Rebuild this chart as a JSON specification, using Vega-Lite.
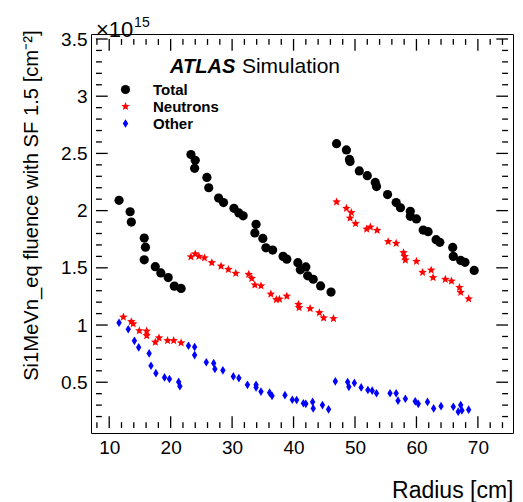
{
  "$schema": "https://vega.github.io/schema/vega-lite/v6.json",
  "width": 422,
  "height": 399,
  "autosize": {"type": "none"},
  "padding": {"left": 91, "top": 34, "right": 10, "bottom": 69},
  "background": "white",
  "config": {
    "view": {"stroke": "black", "strokeWidth": 1},
    "font": "Liberation Sans",
    "axis": {"domain": false, "ticks": false, "grid": false, "labelFont": "Liberation Sans", "labelFontSize": 19, "labelColor": "black", "labelFlush": false, "labelOverlap": false, "labelBound": false, "titleFont": "Liberation Sans", "titleColor": "black", "titleFontWeight": "normal"},
    "legend": {"labelFont": "Liberation Sans", "labelFontSize": 15, "labelFontWeight": "bold", "labelColor": "black", "symbolSize": 75, "labelOffset": 20, "rowPadding": 1, "padding": 0, "symbolStrokeWidth": 0, "labelLimit": 200}
  },
  "datasets": {
    "xt": [
      {"v": 8, "k": "minor"}, {"v": 10, "k": "major"}, {"v": 12, "k": "minor"}, {"v": 14, "k": "minor"}, {"v": 16, "k": "minor"}, {"v": 18, "k": "minor"}, {"v": 20, "k": "major"}, {"v": 22, "k": "minor"}, {"v": 24, "k": "minor"}, {"v": 26, "k": "minor"}, {"v": 28, "k": "minor"}, {"v": 30, "k": "major"}, {"v": 32, "k": "minor"}, {"v": 34, "k": "minor"}, {"v": 36, "k": "minor"}, {"v": 38, "k": "minor"}, {"v": 40, "k": "major"}, {"v": 42, "k": "minor"}, {"v": 44, "k": "minor"}, {"v": 46, "k": "minor"}, {"v": 48, "k": "minor"}, {"v": 50, "k": "major"}, {"v": 52, "k": "minor"}, {"v": 54, "k": "minor"}, {"v": 56, "k": "minor"}, {"v": 58, "k": "minor"}, {"v": 60, "k": "major"}, {"v": 62, "k": "minor"}, {"v": 64, "k": "minor"}, {"v": 66, "k": "minor"}, {"v": 68, "k": "minor"}, {"v": 70, "k": "major"}, {"v": 72, "k": "minor"}, {"v": 74, "k": "minor"}
    ],
    "yt": [
      {"v": 0.2, "k": "minor"}, {"v": 0.3, "k": "minor"}, {"v": 0.4, "k": "minor"}, {"v": 0.5, "k": "major"}, {"v": 0.6, "k": "minor"}, {"v": 0.7, "k": "minor"}, {"v": 0.8, "k": "minor"}, {"v": 0.9, "k": "minor"}, {"v": 1.0, "k": "major"}, {"v": 1.1, "k": "minor"}, {"v": 1.2, "k": "minor"}, {"v": 1.3, "k": "minor"}, {"v": 1.4, "k": "minor"}, {"v": 1.5, "k": "major"}, {"v": 1.6, "k": "minor"}, {"v": 1.7, "k": "minor"}, {"v": 1.8, "k": "minor"}, {"v": 1.9, "k": "minor"}, {"v": 2.0, "k": "major"}, {"v": 2.1, "k": "minor"}, {"v": 2.2, "k": "minor"}, {"v": 2.3, "k": "minor"}, {"v": 2.4, "k": "minor"}, {"v": 2.5, "k": "major"}, {"v": 2.6, "k": "minor"}, {"v": 2.7, "k": "minor"}, {"v": 2.8, "k": "minor"}, {"v": 2.9, "k": "minor"}, {"v": 3.0, "k": "major"}, {"v": 3.1, "k": "minor"}, {"v": 3.2, "k": "minor"}, {"v": 3.3, "k": "minor"}, {"v": 3.4, "k": "minor"}, {"v": 3.5, "k": "major"}
    ],
    "pts": [
      {"r": 11.6, "f": 2.09, "s": "Total"}, {"r": 13.4, "f": 1.99, "s": "Total"}, {"r": 13.6, "f": 1.9, "s": "Total"}, {"r": 15.7, "f": 1.76, "s": "Total"}, {"r": 15.9, "f": 1.68, "s": "Total"}, {"r": 15.7, "f": 1.57, "s": "Total"}, {"r": 17.5, "f": 1.51, "s": "Total"}, {"r": 18.4, "f": 1.455, "s": "Total"}, {"r": 19.6, "f": 1.415, "s": "Total"}, {"r": 20.6, "f": 1.34, "s": "Total"}, {"r": 21.7, "f": 1.32, "s": "Total"},
      {"r": 23.3, "f": 2.49, "s": "Total"}, {"r": 24.0, "f": 2.44, "s": "Total"}, {"r": 23.9, "f": 2.37, "s": "Total"}, {"r": 25.9, "f": 2.29, "s": "Total"}, {"r": 26.2, "f": 2.2, "s": "Total"}, {"r": 27.8, "f": 2.11, "s": "Total"}, {"r": 28.6, "f": 2.07, "s": "Total"}, {"r": 30.3, "f": 2.02, "s": "Total"}, {"r": 31.1, "f": 1.98, "s": "Total"}, {"r": 31.8, "f": 1.955, "s": "Total"}, {"r": 33.9, "f": 1.88, "s": "Total"}, {"r": 33.7, "f": 1.805, "s": "Total"}, {"r": 35.0, "f": 1.757, "s": "Total"}, {"r": 35.5, "f": 1.675, "s": "Total"}, {"r": 36.6, "f": 1.655, "s": "Total"}, {"r": 38.3, "f": 1.6, "s": "Total"}, {"r": 38.9, "f": 1.576, "s": "Total"}, {"r": 40.7, "f": 1.545, "s": "Total"}, {"r": 41.1, "f": 1.483, "s": "Total"}, {"r": 42.0, "f": 1.508, "s": "Total"}, {"r": 42.3, "f": 1.43, "s": "Total"}, {"r": 43.2, "f": 1.4, "s": "Total"}, {"r": 44.4, "f": 1.342, "s": "Total"}, {"r": 46.1, "f": 1.288, "s": "Total"},
      {"r": 47.0, "f": 2.585, "s": "Total"}, {"r": 48.6, "f": 2.53, "s": "Total"}, {"r": 49.1, "f": 2.447, "s": "Total"}, {"r": 49.2, "f": 2.43, "s": "Total"}, {"r": 50.7, "f": 2.347, "s": "Total"}, {"r": 52.0, "f": 2.305, "s": "Total"}, {"r": 53.3, "f": 2.246, "s": "Total"}, {"r": 53.5, "f": 2.21, "s": "Total"}, {"r": 55.3, "f": 2.14, "s": "Total"}, {"r": 56.7, "f": 2.07, "s": "Total"}, {"r": 57.4, "f": 2.025, "s": "Total"}, {"r": 59.0, "f": 1.994, "s": "Total"}, {"r": 59.0, "f": 1.95, "s": "Total"}, {"r": 60.0, "f": 1.927, "s": "Total"}, {"r": 61.1, "f": 1.83, "s": "Total"}, {"r": 61.9, "f": 1.816, "s": "Total"}, {"r": 63.2, "f": 1.746, "s": "Total"}, {"r": 63.8, "f": 1.723, "s": "Total"}, {"r": 65.9, "f": 1.678, "s": "Total"}, {"r": 66.0, "f": 1.6, "s": "Total"}, {"r": 67.2, "f": 1.565, "s": "Total"}, {"r": 67.9, "f": 1.548, "s": "Total"}, {"r": 69.4, "f": 1.477, "s": "Total"},
      {"r": 12.3, "f": 1.07, "s": "Neutrons"}, {"r": 13.6, "f": 1.03, "s": "Neutrons"}, {"r": 13.9, "f": 1.01, "s": "Neutrons"}, {"r": 14.9, "f": 0.95, "s": "Neutrons"}, {"r": 16.1, "f": 0.947, "s": "Neutrons"}, {"r": 16.1, "f": 0.907, "s": "Neutrons"}, {"r": 17.5, "f": 0.85, "s": "Neutrons"}, {"r": 18.1, "f": 0.887, "s": "Neutrons"}, {"r": 19.5, "f": 0.864, "s": "Neutrons"}, {"r": 20.5, "f": 0.864, "s": "Neutrons"}, {"r": 21.7, "f": 0.845, "s": "Neutrons"},
      {"r": 23.3, "f": 1.596, "s": "Neutrons"}, {"r": 24.0, "f": 1.621, "s": "Neutrons"}, {"r": 24.6, "f": 1.6, "s": "Neutrons"}, {"r": 25.5, "f": 1.587, "s": "Neutrons"}, {"r": 26.7, "f": 1.545, "s": "Neutrons"}, {"r": 28.2, "f": 1.514, "s": "Neutrons"}, {"r": 29.4, "f": 1.486, "s": "Neutrons"}, {"r": 30.6, "f": 1.452, "s": "Neutrons"}, {"r": 32.7, "f": 1.443, "s": "Neutrons"}, {"r": 33.2, "f": 1.407, "s": "Neutrons"}, {"r": 33.7, "f": 1.35, "s": "Neutrons"}, {"r": 34.7, "f": 1.342, "s": "Neutrons"}, {"r": 36.3, "f": 1.271, "s": "Neutrons"}, {"r": 37.2, "f": 1.223, "s": "Neutrons"}, {"r": 37.7, "f": 1.226, "s": "Neutrons"}, {"r": 38.9, "f": 1.252, "s": "Neutrons"}, {"r": 40.8, "f": 1.18, "s": "Neutrons"}, {"r": 40.9, "f": 1.153, "s": "Neutrons"}, {"r": 42.7, "f": 1.144, "s": "Neutrons"}, {"r": 44.2, "f": 1.108, "s": "Neutrons"}, {"r": 44.9, "f": 1.062, "s": "Neutrons"}, {"r": 46.5, "f": 1.057, "s": "Neutrons"},
      {"r": 47.0, "f": 2.076, "s": "Neutrons"}, {"r": 48.6, "f": 2.02, "s": "Neutrons"}, {"r": 49.4, "f": 1.983, "s": "Neutrons"}, {"r": 49.2, "f": 1.935, "s": "Neutrons"}, {"r": 50.1, "f": 1.887, "s": "Neutrons"}, {"r": 51.9, "f": 1.839, "s": "Neutrons"}, {"r": 52.5, "f": 1.856, "s": "Neutrons"}, {"r": 53.6, "f": 1.828, "s": "Neutrons"}, {"r": 55.4, "f": 1.729, "s": "Neutrons"}, {"r": 56.7, "f": 1.714, "s": "Neutrons"}, {"r": 57.9, "f": 1.633, "s": "Neutrons"}, {"r": 58.1, "f": 1.599, "s": "Neutrons"}, {"r": 58.2, "f": 1.568, "s": "Neutrons"}, {"r": 60.0, "f": 1.557, "s": "Neutrons"}, {"r": 61.0, "f": 1.46, "s": "Neutrons"}, {"r": 62.4, "f": 1.48, "s": "Neutrons"}, {"r": 62.7, "f": 1.415, "s": "Neutrons"}, {"r": 64.7, "f": 1.4, "s": "Neutrons"}, {"r": 65.7, "f": 1.384, "s": "Neutrons"}, {"r": 67.0, "f": 1.328, "s": "Neutrons"}, {"r": 67.2, "f": 1.286, "s": "Neutrons"}, {"r": 68.5, "f": 1.229, "s": "Neutrons"},
      {"r": 11.6, "f": 1.02, "s": "Other"}, {"r": 13.1, "f": 0.963, "s": "Other"}, {"r": 14.1, "f": 0.862, "s": "Other"}, {"r": 14.8, "f": 0.805, "s": "Other"}, {"r": 16.5, "f": 0.752, "s": "Other"}, {"r": 16.8, "f": 0.644, "s": "Other"}, {"r": 17.6, "f": 0.579, "s": "Other"}, {"r": 19.0, "f": 0.542, "s": "Other"}, {"r": 19.8, "f": 0.528, "s": "Other"}, {"r": 21.3, "f": 0.503, "s": "Other"}, {"r": 21.5, "f": 0.466, "s": "Other"},
      {"r": 22.9, "f": 0.819, "s": "Other"}, {"r": 23.9, "f": 0.808, "s": "Other"}, {"r": 23.9, "f": 0.737, "s": "Other"}, {"r": 25.8, "f": 0.675, "s": "Other"}, {"r": 27.0, "f": 0.667, "s": "Other"}, {"r": 27.2, "f": 0.616, "s": "Other"}, {"r": 28.5, "f": 0.604, "s": "Other"}, {"r": 30.2, "f": 0.551, "s": "Other"}, {"r": 31.1, "f": 0.536, "s": "Other"}, {"r": 32.5, "f": 0.477, "s": "Other"}, {"r": 33.9, "f": 0.477, "s": "Other"}, {"r": 33.9, "f": 0.455, "s": "Other"}, {"r": 34.7, "f": 0.418, "s": "Other"}, {"r": 36.1, "f": 0.409, "s": "Other"}, {"r": 36.5, "f": 0.381, "s": "Other"}, {"r": 38.6, "f": 0.387, "s": "Other"}, {"r": 39.8, "f": 0.347, "s": "Other"}, {"r": 40.5, "f": 0.345, "s": "Other"}, {"r": 41.6, "f": 0.316, "s": "Other"}, {"r": 42.0, "f": 0.311, "s": "Other"}, {"r": 43.1, "f": 0.328, "s": "Other"}, {"r": 43.2, "f": 0.271, "s": "Other"}, {"r": 44.7, "f": 0.3, "s": "Other"}, {"r": 45.7, "f": 0.263, "s": "Other"},
      {"r": 46.8, "f": 0.508, "s": "Other"}, {"r": 48.8, "f": 0.502, "s": "Other"}, {"r": 49.0, "f": 0.46, "s": "Other"}, {"r": 49.9, "f": 0.494, "s": "Other"}, {"r": 51.0, "f": 0.455, "s": "Other"}, {"r": 52.1, "f": 0.432, "s": "Other"}, {"r": 52.8, "f": 0.426, "s": "Other"}, {"r": 53.5, "f": 0.404, "s": "Other"}, {"r": 55.7, "f": 0.404, "s": "Other"}, {"r": 56.7, "f": 0.404, "s": "Other"}, {"r": 57.0, "f": 0.339, "s": "Other"}, {"r": 58.2, "f": 0.356, "s": "Other"}, {"r": 59.8, "f": 0.333, "s": "Other"}, {"r": 60.3, "f": 0.311, "s": "Other"}, {"r": 61.8, "f": 0.328, "s": "Other"}, {"r": 62.8, "f": 0.271, "s": "Other"}, {"r": 64.0, "f": 0.291, "s": "Other"}, {"r": 66.0, "f": 0.286, "s": "Other"}, {"r": 66.8, "f": 0.243, "s": "Other"}, {"r": 67.2, "f": 0.3, "s": "Other"}, {"r": 67.4, "f": 0.254, "s": "Other"}, {"r": 68.5, "f": 0.26, "s": "Other"}
    ]
  },
  "layer": [
    {
      "data": {"name": "pts"},
      "mark": {"type": "point", "filled": true, "opacity": 1, "strokeWidth": 0},
      "encoding": {
        "x": {"field": "r", "type": "quantitative", "scale": {"domain": [7.85, 74.9], "nice": false, "zero": false},
          "axis": {"orient": "bottom", "values": [10, 20, 30, 40, 50, 60, 70], "format": "d", "labelPadding": 5,
            "title": "Radius [cm]", "titleFontSize": 23, "titleAnchor": "end", "titleAlign": "right", "titleBaseline": "alphabetic", "titleX": 422, "titleY": 64}},
        "y": {"field": "f", "type": "quantitative", "scale": {"domain": [0.1, 3.5], "nice": false, "zero": false},
          "axis": {"orient": "left", "values": [0.5, 1, 1.5, 2, 2.5, 3, 3.5], "format": "~g", "labelPadding": 4,
            "title": "Si1MeVn_eq fluence with SF 1.5 [cm⁻²]", "titleFontSize": 20.2, "titleAngle": -90, "titleAlign": "right", "titleBaseline": "alphabetic", "titleX": -54, "titleY": -4}},
        "color": {"field": "s", "type": "nominal", "scale": {"domain": ["Total", "Neutrons", "Other"], "range": ["#000000", "#ff0000", "#0000ff"]},
          "legend": {"orient": "none", "legendX": 27, "legendY": 48, "title": null}},
        "shape": {"field": "s", "type": "nominal", "scale": {"domain": ["Total", "Neutrons", "Other"], "range": ["circle", "M0,-1L0.26,-0.36L0.951,-0.309L0.42,0.137L0.588,0.809L0,0.44L-0.588,0.809L-0.42,0.137L-0.951,-0.309L-0.26,-0.36Z", "M0,-1L0.62,0L0,1L-0.62,0Z"]},
          "legend": {"orient": "none", "legendX": 27, "legendY": 48, "title": null}},
        "size": {"field": "s", "type": "nominal", "scale": {"domain": ["Total", "Neutrons", "Other"], "range": [85, 75, 70]}, "legend": null}
      }
    },
    {
      "data": {"name": "xt"},
      "transform": [{"filter": "datum.k == 'major'"}],
      "mark": {"type": "bar", "orient": "vertical", "size": 1.3, "color": "black", "opacity": 1, "strokeWidth": 0},
      "encoding": {
        "x": {"field": "v", "type": "quantitative", "axis": null, "scale": {"domain": [7.85, 74.9], "nice": false, "zero": false}},
        "y": {"datum": 0.1, "type": "quantitative", "axis": null, "scale": {"domain": [0.1, 3.5], "nice": false, "zero": false}},
        "y2": {"datum": 0.2023}
      }
    },
    {
      "data": {"name": "xt"},
      "transform": [{"filter": "datum.k == 'minor'"}],
      "mark": {"type": "bar", "orient": "vertical", "size": 1.3, "color": "black", "opacity": 1, "strokeWidth": 0},
      "encoding": {
        "x": {"field": "v", "type": "quantitative", "axis": null, "scale": {"domain": [7.85, 74.9], "nice": false, "zero": false}},
        "y": {"datum": 0.1, "type": "quantitative", "axis": null, "scale": {"domain": [0.1, 3.5], "nice": false, "zero": false}},
        "y2": {"datum": 0.1511}
      }
    },
    {
      "data": {"name": "xt"},
      "transform": [{"filter": "datum.k == 'major'"}],
      "mark": {"type": "bar", "orient": "vertical", "size": 1.3, "color": "black", "opacity": 1, "strokeWidth": 0},
      "encoding": {
        "x": {"field": "v", "type": "quantitative", "axis": null, "scale": {"domain": [7.85, 74.9], "nice": false, "zero": false}},
        "y": {"datum": 3.5, "type": "quantitative", "axis": null, "scale": {"domain": [0.1, 3.5], "nice": false, "zero": false}},
        "y2": {"datum": 3.3977}
      }
    },
    {
      "data": {"name": "xt"},
      "transform": [{"filter": "datum.k == 'minor'"}],
      "mark": {"type": "bar", "orient": "vertical", "size": 1.3, "color": "black", "opacity": 1, "strokeWidth": 0},
      "encoding": {
        "x": {"field": "v", "type": "quantitative", "axis": null, "scale": {"domain": [7.85, 74.9], "nice": false, "zero": false}},
        "y": {"datum": 3.5, "type": "quantitative", "axis": null, "scale": {"domain": [0.1, 3.5], "nice": false, "zero": false}},
        "y2": {"datum": 3.4489}
      }
    },
    {
      "data": {"name": "yt"},
      "transform": [{"filter": "datum.k == 'major'"}],
      "mark": {"type": "bar", "orient": "horizontal", "size": 1.3, "color": "black", "opacity": 1, "strokeWidth": 0},
      "encoding": {
        "y": {"field": "v", "type": "quantitative", "axis": null, "scale": {"domain": [0.1, 3.5], "nice": false, "zero": false}},
        "x": {"datum": 7.85, "type": "quantitative", "axis": null, "scale": {"domain": [7.85, 74.9], "nice": false, "zero": false}},
        "x2": {"datum": 9.757}
      }
    },
    {
      "data": {"name": "yt"},
      "transform": [{"filter": "datum.k == 'minor'"}],
      "mark": {"type": "bar", "orient": "horizontal", "size": 1.3, "color": "black", "opacity": 1, "strokeWidth": 0},
      "encoding": {
        "y": {"field": "v", "type": "quantitative", "axis": null, "scale": {"domain": [0.1, 3.5], "nice": false, "zero": false}},
        "x": {"datum": 7.85, "type": "quantitative", "axis": null, "scale": {"domain": [7.85, 74.9], "nice": false, "zero": false}},
        "x2": {"datum": 8.803}
      }
    },
    {
      "data": {"name": "yt"},
      "transform": [{"filter": "datum.k == 'major'"}],
      "mark": {"type": "bar", "orient": "horizontal", "size": 1.3, "color": "black", "opacity": 1, "strokeWidth": 0},
      "encoding": {
        "y": {"field": "v", "type": "quantitative", "axis": null, "scale": {"domain": [0.1, 3.5], "nice": false, "zero": false}},
        "x": {"datum": 74.9, "type": "quantitative", "axis": null, "scale": {"domain": [7.85, 74.9], "nice": false, "zero": false}},
        "x2": {"datum": 72.993}
      }
    },
    {
      "data": {"name": "yt"},
      "transform": [{"filter": "datum.k == 'minor'"}],
      "mark": {"type": "bar", "orient": "horizontal", "size": 1.3, "color": "black", "opacity": 1, "strokeWidth": 0},
      "encoding": {
        "y": {"field": "v", "type": "quantitative", "axis": null, "scale": {"domain": [0.1, 3.5], "nice": false, "zero": false}},
        "x": {"datum": 74.9, "type": "quantitative", "axis": null, "scale": {"domain": [7.85, 74.9], "nice": false, "zero": false}},
        "x2": {"datum": 73.947}
      }
    },
    {
      "data": {"values": [{}]},
      "mark": {"type": "text", "text": "ATLAS", "fontStyle": "italic", "fontWeight": "bold", "fontSize": 20, "font": "Liberation Sans", "align": "left", "baseline": "alphabetic", "color": "black"},
      "encoding": {
        "x": {"datum": 19.9, "type": "quantitative", "axis": null, "scale": {"domain": [7.85, 74.9], "nice": false, "zero": false}},
        "y": {"datum": 3.2, "type": "quantitative", "axis": null, "scale": {"domain": [0.1, 3.5], "nice": false, "zero": false}}
      }
    },
    {
      "data": {"values": [{}]},
      "mark": {"type": "text", "text": "Simulation", "fontSize": 21, "font": "Liberation Sans", "align": "left", "baseline": "alphabetic", "color": "black"},
      "encoding": {
        "x": {"datum": 31.6, "type": "quantitative", "axis": null, "scale": {"domain": [7.85, 74.9], "nice": false, "zero": false}},
        "y": {"datum": 3.2, "type": "quantitative", "axis": null, "scale": {"domain": [0.1, 3.5], "nice": false, "zero": false}}
      }
    },
    {
      "data": {"values": [{}]},
      "mark": {"type": "text", "text": "×10", "fontSize": 22, "font": "Liberation Sans", "align": "left", "baseline": "alphabetic", "color": "black", "dy": -2},
      "encoding": {
        "x": {"datum": 7.85, "type": "quantitative", "axis": null, "scale": {"domain": [7.85, 74.9], "nice": false, "zero": false}},
        "y": {"datum": 3.5, "type": "quantitative", "axis": null, "scale": {"domain": [0.1, 3.5], "nice": false, "zero": false}}
      }
    },
    {
      "data": {"values": [{}]},
      "mark": {"type": "text", "text": "15", "fontSize": 14, "font": "Liberation Sans", "align": "left", "baseline": "alphabetic", "color": "black", "dy": -12},
      "encoding": {
        "x": {"datum": 14.05, "type": "quantitative", "axis": null, "scale": {"domain": [7.85, 74.9], "nice": false, "zero": false}},
        "y": {"datum": 3.5, "type": "quantitative", "axis": null, "scale": {"domain": [0.1, 3.5], "nice": false, "zero": false}}
      }
    }
  ],
  "resolve": {"axis": {"x": "independent", "y": "independent"}}
}
